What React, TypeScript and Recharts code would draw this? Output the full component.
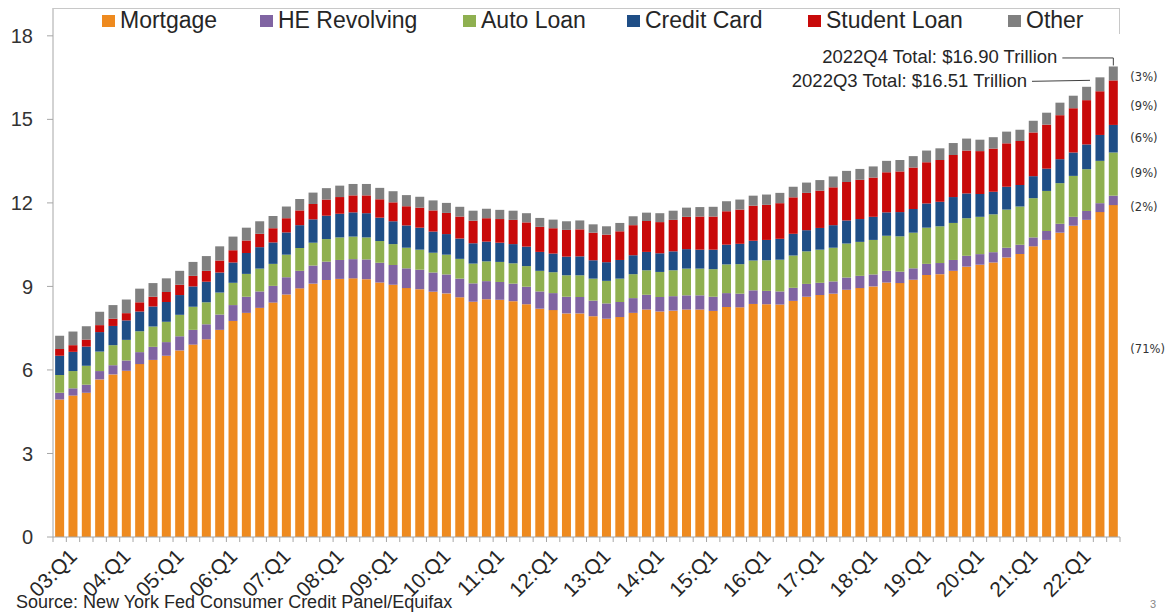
import { BarChart, Bar, XAxis, YAxis, ReferenceDot } from "recharts";

// quarters 2003Q1 .. 2022Q4, labelled "03:Q1" etc.
const YEARS = ["03", "04", "05", "06", "07", "08", "09", "10", "11", "12", "13", "14", "15", "16", "17", "18", "19", "20", "21", "22"];
const QUARTERS = YEARS.flatMap((y) => ["Q1", "Q2", "Q3", "Q4"].map((q) => `${y}:${q}`));

// debt balances, trillions of dollars
const MORTGAGE = [
  4.94, 5.08, 5.18, 5.66, 5.84, 5.97, 6.21, 6.36, 6.51, 6.70, 6.91, 7.10, 7.44, 7.76, 8.05, 8.23,
  8.42, 8.71, 8.93, 9.10, 9.23, 9.27, 9.29, 9.26, 9.14, 9.06, 8.94, 8.90, 8.81, 8.75, 8.61, 8.45,
  8.54, 8.52, 8.47, 8.36, 8.20, 8.15, 8.03, 8.03, 7.93, 7.84, 7.90, 8.05, 8.17, 8.10, 8.13, 8.17,
  8.17, 8.12, 8.26, 8.25, 8.37, 8.36, 8.35, 8.48, 8.63, 8.69, 8.74, 8.88, 8.94, 9.00, 9.14, 9.12,
  9.24, 9.41, 9.44, 9.56, 9.71, 9.78, 9.86, 10.04, 10.16, 10.44, 10.67, 10.93, 11.18, 11.39, 11.67, 11.92,
];
const HE_REVOLVING = [
  0.24, 0.26, 0.29, 0.30, 0.33, 0.37, 0.43, 0.47, 0.49, 0.51, 0.53, 0.54, 0.55, 0.57, 0.58, 0.59,
  0.60, 0.62, 0.63, 0.65, 0.66, 0.68, 0.69, 0.71, 0.71, 0.71, 0.71, 0.70, 0.69, 0.68, 0.67, 0.66,
  0.65, 0.64, 0.63, 0.63, 0.62, 0.61, 0.60, 0.59, 0.56, 0.55, 0.54, 0.53, 0.53, 0.52, 0.52, 0.51,
  0.51, 0.51, 0.50, 0.49, 0.49, 0.48, 0.47, 0.47, 0.46, 0.44, 0.44, 0.44, 0.44, 0.43, 0.42, 0.41,
  0.41, 0.40, 0.40, 0.39, 0.39, 0.38, 0.37, 0.35, 0.34, 0.32, 0.32, 0.32, 0.32, 0.32, 0.32, 0.34,
];
const AUTO_LOAN = [
  0.64, 0.62, 0.68, 0.70, 0.72, 0.74, 0.75, 0.73, 0.73, 0.77, 0.83, 0.79, 0.79, 0.80, 0.82, 0.82,
  0.79, 0.81, 0.82, 0.82, 0.81, 0.81, 0.81, 0.79, 0.78, 0.75, 0.74, 0.72, 0.71, 0.71, 0.71, 0.71,
  0.71, 0.72, 0.73, 0.74, 0.74, 0.75, 0.77, 0.78, 0.79, 0.81, 0.84, 0.86, 0.88, 0.90, 0.93, 0.96,
  0.96, 0.99, 1.03, 1.06, 1.07, 1.10, 1.14, 1.16, 1.17, 1.19, 1.21, 1.22, 1.22, 1.24, 1.26, 1.27,
  1.28, 1.30, 1.32, 1.33, 1.35, 1.34, 1.36, 1.37, 1.37, 1.41, 1.44, 1.46, 1.47, 1.50, 1.52, 1.55,
];
const CREDIT_CARD = [
  0.69, 0.69, 0.69, 0.70, 0.69, 0.70, 0.71, 0.72, 0.71, 0.71, 0.73, 0.74, 0.72, 0.73, 0.75, 0.77,
  0.77, 0.80, 0.82, 0.84, 0.84, 0.85, 0.87, 0.87, 0.84, 0.82, 0.80, 0.79, 0.76, 0.74, 0.73, 0.73,
  0.71, 0.69, 0.69, 0.70, 0.68, 0.67, 0.67, 0.68, 0.66, 0.67, 0.67, 0.68, 0.66, 0.67, 0.68, 0.70,
  0.68, 0.70, 0.71, 0.73, 0.71, 0.73, 0.75, 0.78, 0.76, 0.78, 0.81, 0.83, 0.82, 0.83, 0.84, 0.87,
  0.85, 0.87, 0.88, 0.93, 0.89, 0.82, 0.81, 0.82, 0.77, 0.79, 0.80, 0.86, 0.84, 0.89, 0.93, 0.99,
];
const STUDENT_LOAN = [
  0.24, 0.24, 0.25, 0.25, 0.26, 0.26, 0.33, 0.35, 0.36, 0.37, 0.38, 0.39, 0.43, 0.44, 0.45, 0.48,
  0.51, 0.51, 0.53, 0.55, 0.58, 0.60, 0.61, 0.64, 0.66, 0.68, 0.69, 0.72, 0.76, 0.76, 0.79, 0.81,
  0.84, 0.85, 0.87, 0.87, 0.90, 0.91, 0.96, 0.97, 0.99, 0.99, 1.03, 1.08, 1.11, 1.12, 1.13, 1.16,
  1.19, 1.19, 1.20, 1.23, 1.26, 1.26, 1.28, 1.31, 1.34, 1.34, 1.36, 1.38, 1.41, 1.41, 1.44, 1.46,
  1.49, 1.48, 1.50, 1.51, 1.54, 1.54, 1.55, 1.56, 1.58, 1.57, 1.58, 1.58, 1.59, 1.59, 1.57, 1.60,
];
const OTHER = [
  0.48, 0.49, 0.48, 0.48, 0.49, 0.49, 0.49, 0.49, 0.49, 0.50, 0.50, 0.53, 0.51, 0.49, 0.46, 0.45,
  0.44, 0.42, 0.41, 0.41, 0.41, 0.41, 0.41, 0.41, 0.41, 0.40, 0.40, 0.39, 0.36, 0.36, 0.35, 0.36,
  0.34, 0.33, 0.33, 0.33, 0.32, 0.31, 0.31, 0.32, 0.30, 0.30, 0.30, 0.32, 0.30, 0.32, 0.33, 0.33,
  0.34, 0.35, 0.36, 0.36, 0.36, 0.37, 0.37, 0.38, 0.37, 0.38, 0.39, 0.40, 0.39, 0.40, 0.41, 0.41,
  0.41, 0.42, 0.42, 0.43, 0.43, 0.41, 0.41, 0.42, 0.41, 0.42, 0.43, 0.45, 0.45, 0.48, 0.50, 0.50,
];

const Y_TICKS = [0, 3, 6, 9, 12, 15, 18];

const SERIES = [
  { key: "mortgage", name: "Mortgage", color: "#EE8A1F", values: MORTGAGE },
  { key: "heRevolving", name: "HE Revolving", color: "#8064A2", values: HE_REVOLVING },
  { key: "autoLoan", name: "Auto Loan", color: "#8FB050", values: AUTO_LOAN },
  { key: "creditCard", name: "Credit Card", color: "#1F4E86", values: CREDIT_CARD },
  { key: "studentLoan", name: "Student Loan", color: "#C80A0A", values: STUDENT_LOAN },
  { key: "other", name: "Other", color: "#808080", values: OTHER },
];

// latest-quarter shares, printed beside the last bar
const SHARE_LABELS = [
  { text: "(3%)", at: 16.5 },
  { text: "(9%)", at: 15.45 },
  { text: "(6%)", at: 14.3 },
  { text: "(9%)", at: 13.04 },
  { text: "(2%)", at: 11.82 },
  { text: "(71%)", at: 6.72 },
];

const TOTAL_Q3 = 16.51;
const TOTAL_Q4 = 16.9;

const data = QUARTERS.map((quarter, i) => {
  const row: Record<string, string | number> = { quarter };
  SERIES.forEach((s) => (row[s.key] = s.values[i]));
  return row;
});

const FONT = "'Liberation Sans', Arial, sans-serif";
const LEGEND_X = [102, 260, 463, 627, 808, 1008];

const QuarterTick = (props: any) => {
  const { x, y, payload, index } = props;
  const half = payload?.offset ?? 6.7;
  return (
    <g>
      <line x1={x - half} y1={y} x2={x - half} y2={y + 5} stroke="#a6a6a6" />
      {index === QUARTERS.length - 1 && (
        <line x1={x + half} y1={y} x2={x + half} y2={y + 5} stroke="#a6a6a6" />
      )}
      {index % 4 === 0 && (
        <g transform={`translate(${x + 8}, ${y + 10}) rotate(-45)`}>
          <text x={0} y={0} dy="0.72em" textAnchor="end" fontSize={21} fontFamily={FONT} fill="#262626">
            {payload.value}
          </text>
        </g>
      )}
    </g>
  );
};

// callout text + leader line pointing at a bar top
const TotalNote = (text: string, q4: boolean) => (p: any) => {
  const { cx, cy } = p;
  if (q4) {
    const ty = cy - 8.5;
    return (
      <g>
        <text x={cx - 56} y={ty} textAnchor="end" dominantBaseline="middle" fontSize={18.5} fontFamily={FONT} fill="#262626">
          {text}
        </text>
        <polyline points={`${cx - 51},${ty} ${cx},${ty} ${cx},${cy - 1}`} fill="none" stroke="#404040" />
      </g>
    );
  }
  const ty = cy + 4;
  return (
    <g>
      <text x={cx - 73} y={ty + 1} textAnchor="end" dominantBaseline="middle" fontSize={18.5} fontFamily={FONT} fill="#262626">
        {text}
      </text>
      <line x1={cx - 68} y1={ty} x2={cx - 10} y2={ty - 1} stroke="#404040" />
    </g>
  );
};

const ShareText = (text: string) => (p: any) => (
  <text x={p.cx + 17} y={p.cy} dominantBaseline="middle" fontSize={11.5} fontFamily="'DejaVu Sans', sans-serif" fill="#333">
    {text}
  </text>
);

export default function App() {
  return (
    <div style={{ position: "absolute", left: 0, top: 0, width: 1173, height: 615, background: "#fff" }}>
      <BarChart width={1173} height={615} data={data} margin={{ top: 8, right: 53, bottom: 0, left: 0 }} barCategoryGap="16%">
        <YAxis
          width={53}
          domain={[0, 19]}
          ticks={Y_TICKS}
          interval={0}
          stroke="#a6a6a6"
          tickSize={6}
          tickMargin={14}
          tick={{ fontSize: 20, fontFamily: FONT, fill: "#333" }}
        />
        <XAxis
          dataKey="quarter"
          height={78}
          interval={0}
          stroke="#a6a6a6"
          tickLine={false}
          tickSize={0}
          tickMargin={0}
          tick={<QuarterTick />}
        />
        {SERIES.map((s) => (
          <Bar key={s.key} dataKey={s.key} name={s.name} stackId="debt" fill={s.color} isAnimationActive={false} />
        ))}
        <ReferenceDot x="22:Q4" y={TOTAL_Q4} r={0} ifOverflow="visible" shape={TotalNote("2022Q4 Total: $16.90 Trillion", true)} />
        <ReferenceDot x="22:Q3" y={TOTAL_Q3} r={0} ifOverflow="visible" shape={TotalNote("2022Q3 Total: $16.51 Trillion", false)} />
        {SHARE_LABELS.map((l, i) => (
          <ReferenceDot key={i} x="22:Q4" y={l.at} r={0} ifOverflow="visible" shape={ShareText(l.text)} />
        ))}
      </BarChart>

      {/* legend strip with its partial frame */}
      <div
        style={{
          position: "absolute",
          left: 53,
          top: 8,
          width: 1066,
          height: 25,
          borderTop: "1px solid #c8c8c8",
          borderRight: "1px solid #c8c8c8",
          fontFamily: FONT,
          fontSize: 23,
          color: "#262626",
        }}
      >
        {SERIES.map((s, i) => (
          <div
            key={s.key}
            style={{ position: "absolute", left: LEGEND_X[i] - 53, top: -2, height: 26, display: "flex", alignItems: "center", whiteSpace: "nowrap" }}
          >
            <span style={{ display: "inline-block", width: 13, height: 12, background: s.color, marginRight: 5, marginTop: 2 }} />
            {s.name}
          </div>
        ))}
      </div>

      <div style={{ position: "absolute", left: 16, top: 592, fontFamily: FONT, fontSize: 18, color: "#262626" }}>
        Source: New York Fed Consumer Credit Panel/Equifax
      </div>
      <div style={{ position: "absolute", left: 1150, top: 598, fontFamily: FONT, fontSize: 11, color: "#888" }}>3</div>
    </div>
  );
}
